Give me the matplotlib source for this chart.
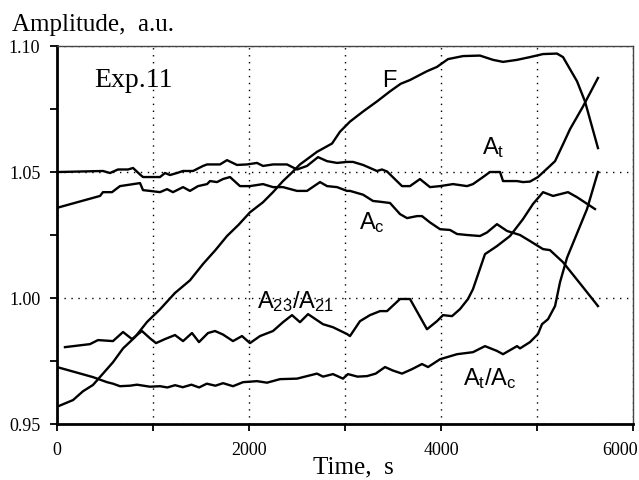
import matplotlib
matplotlib.use("Agg")
import matplotlib.pyplot as plt
import matplotlib.transforms as mtransforms
from matplotlib.ticker import MultipleLocator, FixedLocator, FixedFormatter

# ---------------- data ----------------
F_t = [10, 167, 271, 375, 479, 583, 688, 813, 938, 1073, 1229, 1385, 1521, 1650, 1771,
       1890, 2010, 2146, 2250, 2354, 2440, 2531, 2620, 2708, 2865, 2948, 3052, 3188, 3333,
       3469, 3580, 3677, 3854, 3958, 4073, 4229, 4406, 4542, 4646, 4792, 4927, 5063,
       5208, 5271, 5417, 5500, 5635]
F_v = [0.957, 0.9595, 0.963, 0.9655, 0.970, 0.9745, 0.980, 0.9845, 0.9905, 0.9955,
       1.002, 1.0070, 1.0135, 1.0190, 1.0246, 1.0290, 1.0340, 1.0380, 1.0420, 1.0464,
       1.0495, 1.0530, 1.0555, 1.0580, 1.0613, 1.0660, 1.0700, 1.0740, 1.0780,
       1.0820, 1.0850, 1.0865, 1.0900, 1.0917, 1.0948, 1.0960, 1.0962, 1.0945, 1.0937,
       1.0945, 1.0956, 1.0968, 1.0970, 1.0956, 1.0860, 1.0780, 1.0595]

At_t = [21, 479, 552, 635, 740, 792, 865, 896, 1073, 1125, 1177, 1250, 1313, 1417, 1521,
        1563, 1698, 1771, 1875, 1979, 2083, 2146, 2250, 2396, 2500, 2604, 2719, 2813,
        2917, 3021, 3083, 3188, 3333, 3385, 3438, 3594, 3677, 3781, 3885, 3990, 4125,
        4271, 4333, 4438, 4510, 4615, 4646, 4792, 4854, 4927, 5010, 5135, 5188, 5271,
        5344, 5479, 5635]
At_v = [1.0500, 1.0504, 1.0496, 1.0510, 1.0510, 1.0516, 1.0490, 1.0480, 1.0480, 1.0496,
        1.0488, 1.0496, 1.0504, 1.0504, 1.0524, 1.0530, 1.0530, 1.0547, 1.0528, 1.0530,
        1.0536, 1.0524, 1.0530, 1.0530, 1.0510, 1.0524, 1.0559, 1.0543, 1.0536, 1.0540,
        1.0540, 1.0528, 1.0504, 1.0510, 1.0502, 1.0444, 1.0444, 1.0472, 1.0440, 1.0444,
        1.0452, 1.0444, 1.0452, 1.0480, 1.0500, 1.0500, 1.0464, 1.0464, 1.0460, 1.0462,
        1.0480, 1.0524, 1.0543, 1.0610, 1.0670, 1.0760, 1.0873]

Ac_t = [21, 448, 479, 573, 656, 865, 896, 969, 1073, 1146, 1208, 1313, 1385, 1469, 1563,
        1594, 1667, 1729, 1802, 1906, 2010, 2146, 2250, 2354, 2500, 2604, 2740, 2813,
        2917, 3021, 3052, 3188, 3292, 3365, 3469, 3573, 3646, 3750, 3802, 3885, 3990,
        4094, 4167, 4271, 4406, 4479, 4583, 4688, 4823, 4927, 5063, 5135, 5271, 5479,
        5635]
Ac_v = [1.0360, 1.0405, 1.0420, 1.0420, 1.0444, 1.0456, 1.0428, 1.0425, 1.0420, 1.0432,
        1.0420, 1.0440, 1.0425, 1.0444, 1.0452, 1.0464, 1.0460, 1.0472, 1.0480, 1.0444,
        1.0444, 1.0452, 1.0440, 1.0440, 1.0425, 1.0425, 1.0460, 1.0444, 1.0440, 1.0425,
        1.0425, 1.0410, 1.0385, 1.0382, 1.0377, 1.0333, 1.0317, 1.0325, 1.0325, 1.0300,
        1.0273, 1.0270, 1.0254, 1.0250, 1.0246, 1.0260, 1.0293, 1.0266, 1.0250, 1.0226,
        1.0194, 1.0190, 1.0142, 1.0043, 0.9968]

R_t = [83, 344, 427, 583, 688, 781, 885, 969, 1031, 1125, 1229, 1313, 1406, 1479, 1573,
       1646, 1729, 1833, 1927, 2010, 2115, 2250, 2354, 2448, 2531, 2615, 2771, 2875,
       3021, 3052, 3156, 3260, 3365, 3438, 3573, 3677, 3854, 3958, 4021, 4115, 4198,
       4281, 4333, 4458, 4583, 4719, 4854, 4958, 5063, 5167, 5240, 5323, 5417, 5604]
R_v = [0.9805, 0.9817, 0.9833, 0.9829, 0.9865, 0.9837, 0.9869, 0.9840, 0.9821, 0.9837,
       0.9853, 0.9829, 0.9861, 0.9825, 0.9861, 0.9869, 0.9855, 0.9829, 0.9849, 0.9821,
       0.9849, 0.9869, 0.9904, 0.9932, 0.9904, 0.9936, 0.9896, 0.9884, 0.9857, 0.9849,
       0.9908, 0.9932, 0.9948, 0.9948, 0.9996, 0.9996, 0.9876, 0.9908, 0.9932, 0.9928,
       0.9956, 0.9996, 1.0035, 1.0174, 1.0206, 1.0246, 1.0313, 1.0373, 1.0420, 1.0405,
       1.0412, 1.0420, 1.0400, 1.0353]

Q_t = [0, 375, 521, 583, 656, 760, 833, 969, 1073, 1150, 1230, 1310, 1400, 1480, 1560,
       1650, 1730, 1833, 1938, 2083, 2188, 2323, 2500, 2604, 2708, 2771, 2875, 2979,
       3031, 3130, 3229, 3320, 3417, 3500, 3594, 3700, 3802, 3865, 3990, 4167, 4333,
       4458, 4583, 4646, 4792, 4823, 4927, 5010, 5052, 5115, 5188, 5240, 5313, 5521, 5635]
Q_v = [0.9726, 0.9686, 0.9666, 0.9660, 0.9650, 0.9652, 0.9656, 0.9648, 0.9650, 0.9645,
       0.9654, 0.9646, 0.9656, 0.9645, 0.9660, 0.9652, 0.9662, 0.9650, 0.9666, 0.9670,
       0.9664, 0.9678, 0.9680, 0.9690, 0.9700, 0.9688, 0.9698, 0.9680, 0.9698, 0.9688,
       0.9690, 0.9700, 0.9726, 0.9712, 0.9700, 0.9718, 0.9738, 0.9726, 0.9757, 0.9777,
       0.9785, 0.9809, 0.9790, 0.9777, 0.9809, 0.9800, 0.9825, 0.9857, 0.9896, 0.9916,
       0.9968, 1.0063, 1.0160, 1.0353, 1.0500]

x_ticks = [0, 2000, 4000, 6000]
x_ticklabels = ["0", "2000", "4000", "6000"]
y_ticks = [0.95, 1.00, 1.05, 1.10]
y_ticklabels = ["0.95", "1.00", "1.05", "1.10"]

# ---------------- figure ----------------
plt.rcParams['mathtext.fontset'] = 'custom'
plt.rcParams['mathtext.rm'] = 'Liberation Sans'
plt.rcParams['mathtext.it'] = 'Liberation Sans'

W, H = 639, 481
fig = plt.figure(figsize=(W / 100, H / 100), dpi=100)
ax = fig.add_axes([57 / W, 1 - 425 / H, (633 - 57) / W, (425 - 47) / H])

ax.set_xlim(0, 6000)
ax.set_ylim(0.95, 1.10)

lw = 1.7
for t, v in [(F_t, F_v), (At_t, At_v), (Ac_t, Ac_v), (R_t, R_v), (Q_t, Q_v)]:
    ax.plot(t, v, color='black', lw=lw, solid_joinstyle='round', zorder=3)

# ticks
ax.xaxis.set_major_locator(FixedLocator(x_ticks))
ax.xaxis.set_major_formatter(FixedFormatter(x_ticklabels))
ax.xaxis.set_minor_locator(MultipleLocator(1000))
ax.yaxis.set_major_locator(FixedLocator(y_ticks))
ax.yaxis.set_major_formatter(FixedFormatter(y_ticklabels))
ax.yaxis.set_minor_locator(MultipleLocator(0.025))
ax.tick_params(which='both', direction='out', length=5, width=1.3, color='black',
               pad=7, labelsize=13)
for lab in ax.get_xticklabels() + ax.get_yticklabels():
    lab.set_family('Liberation Serif')
# keep the last x tick label inside the figure, as in the reference
fig.canvas.draw()
last = ax.get_xticklabels()[-1]
last.set_horizontalalignment('right')
last.set_transform(last.get_transform() + mtransforms.ScaledTranslation(5 / 100, 0, fig.dpi_scale_trans))

# grid
ax.grid(which='both', axis='x', color='black', lw=1.0, linestyle=(0, (1, 4)), zorder=1)
ax.grid(which='major', axis='y', color='black', lw=1.0, linestyle=(0, (1, 4)), zorder=1)
ax.set_axisbelow(True)

# spines
for s in ['left', 'bottom']:
    ax.spines[s].set_linewidth(2.0)
    ax.spines[s].set_color('black')
for s in ['top', 'right']:
    ax.spines[s].set_linewidth(1.0)
    ax.spines[s].set_color('#444444')

# labels
fig.text(12 / W, 1 - 31 / H, "Amplitude,  a.u.", family='Liberation Serif',
         fontsize=18, ha='left', va='baseline')
fig.text(353 / W, 1 - 473 / H, "Time,  s", family='Liberation Serif',
         fontsize=18, ha='center', va='baseline')

ax.text(385, 1.0841, "Exp.11", family='Liberation Serif', fontsize=20,
        ha='left', va='baseline')

sans = dict(family='Liberation Sans', fontsize=17, ha='left', va='baseline', zorder=4)
ax.text(3385, 1.0841, "F", **sans)
ax.text(4427, 1.0575, r"A$_{\mathrm{t}}$", **sans)
ax.text(3146, 1.0277, r"A$_{\mathrm{c}}$", **sans)
ax.text(2083, 0.9964, r"A$_{\mathrm{23}}$/A$_{\mathrm{21}}$", **sans)
ax.text(4229, 0.9658, r"A$_{\mathrm{t}}$/A$_{\mathrm{c}}$", **sans)

fig.savefig("out.png", dpi=100)
